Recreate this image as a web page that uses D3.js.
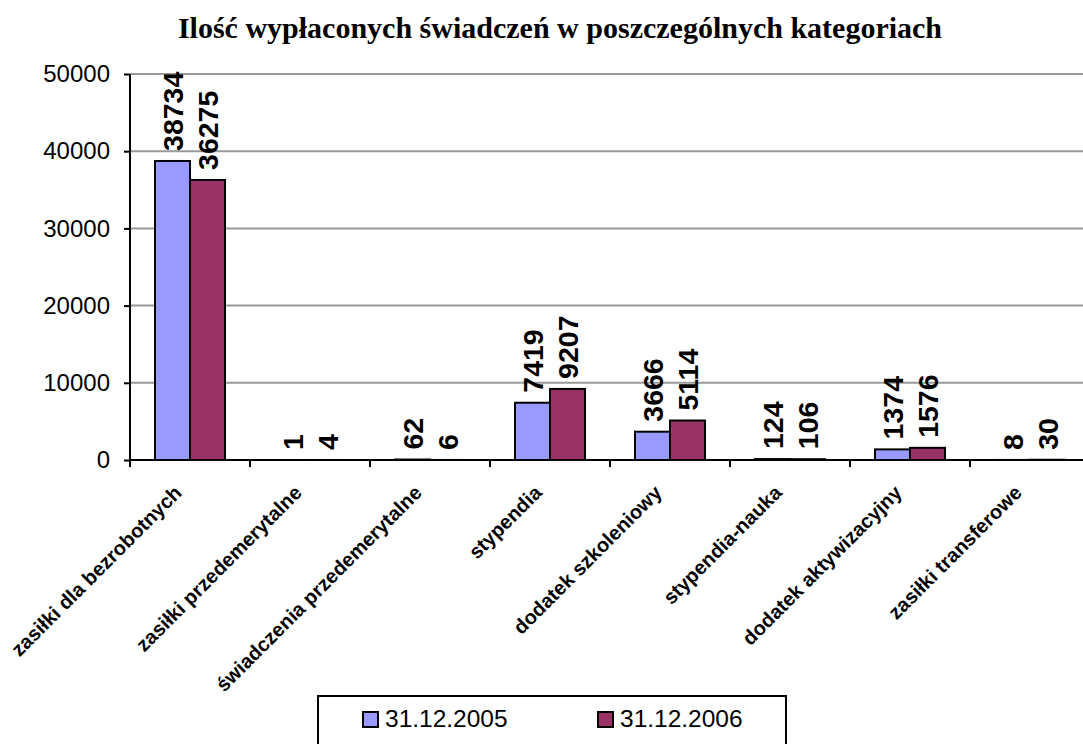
<!DOCTYPE html>
<html><head><meta charset="utf-8">
<script src="https://cdn.jsdelivr.net/npm/d3@7"></script>
<style>body{margin:0;background:#fff}svg{display:block}</style>
</head><body>
<script>
const categories = ["zasiłki dla bezrobotnych","zasiłki przedemerytalne","świadczenia przedemerytalne","stypendia","dodatek szkoleniowy","stypendia-nauka","dodatek aktywizacyjny","zasiłki transferowe"];
const seriesNames = ["31.12.2005","31.12.2006"];
const values2005 = [38734,1,62,7419,3666,124,1374,8];
const values2006 = [36275,4,6,9207,5114,106,1576,30];
const yTicks = [0,10000,20000,30000,40000,50000];
const title = "Ilość wypłaconych świadczeń w poszczególnych kategoriach";
const colors = ["#9999FF","#993366"];

const W=1083,H=744;
const svg=d3.select("body").append("svg").attr("width",W).attr("height",H);
const x0=d3.scaleBand().domain(categories).range([130,1090]);
const x1=d3.scaleBand().domain(seriesNames).range([25,95]);
const y=d3.scaleLinear().domain([0,50000]).range([460,74]);

svg.append("text").attr("x",560).attr("y",38).attr("text-anchor","middle")
  .attr("font-family","'Liberation Serif','Times New Roman',serif").attr("font-weight","bold")
  .attr("font-size",30).text(title);

// gridlines
svg.append("g").selectAll("line").data(yTicks.slice(1)).join("line")
  .attr("x1",130).attr("x2",W).attr("y1",d=>y(d)).attr("y2",d=>y(d))
  .attr("stroke","#999").attr("stroke-width",2);

const yAxis=svg.append("g").attr("transform","translate(130,0)")
  .call(d3.axisLeft(y).tickValues(yTicks).tickSize(6).tickPadding(14).tickFormat(d3.format("d")));
yAxis.select(".domain").attr("stroke","#000").attr("stroke-width",2).attr("d","M0,74V460");
yAxis.selectAll(".tick line").attr("stroke","#000").attr("stroke-width",2);
yAxis.selectAll("text").attr("font-family","'Liberation Sans',Arial,sans-serif").attr("font-size",24).attr("fill","#000");

const data=categories.map((c,i)=>({c,vals:[values2005[i],values2006[i]]}));
const groups=svg.append("g").selectAll("g").data(data).join("g")
  .attr("transform",d=>`translate(${x0(d.c)},0)`);
groups.selectAll("rect").data(d=>d.vals.map((v,j)=>({v,s:seriesNames[j],j}))).join("rect")
  .attr("x",d=>x1(d.s)).attr("width",x1.bandwidth())
  .attr("y",d=>y(d.v)).attr("height",d=>y(0)-y(d.v))
  .attr("fill",d=>colors[d.j]).attr("stroke","#000").attr("stroke-width",2);
groups.selectAll("text").data(d=>d.vals.map((v,j)=>({v,s:seriesNames[j],j}))).join("text")
  .attr("transform",d=>`translate(${x1(d.s)+x1.bandwidth()/2+10},${y(d.v)-10}) rotate(-90)`)
  .attr("font-family","'Liberation Sans',Arial,sans-serif").attr("font-weight","bold")
  .attr("font-size",28.5).text(d=>d.v);

// x axis
const xAxis=svg.append("g").attr("transform","translate(0,460)")
  .call(d3.axisBottom(x0).tickSize(0).tickFormat(""));
xAxis.select(".domain").attr("d",`M130,0H${W}`).attr("stroke","#000").attr("stroke-width",2);
xAxis.selectAll(".tick").remove();
xAxis.append("g").selectAll("line").data(d3.range(categories.length+1)).join("line")
  .attr("x1",i=>130+i*x0.step()).attr("x2",i=>130+i*x0.step()).attr("y1",0).attr("y2",7)
  .attr("stroke","#000").attr("stroke-width",2);

svg.append("g").selectAll("text").data(categories).join("text")
  .attr("transform",d=>`translate(${x0(d)+x0.bandwidth()/2-7},${494}) rotate(-45)`)
  .attr("text-anchor","end")
  .attr("font-family","'Liberation Sans',Arial,sans-serif").attr("font-weight","bold")
  .attr("font-size",20).text(d=>d);

// legend
const lg=svg.append("g");
lg.append("rect").attr("x",318).attr("y",696).attr("width",468).attr("height",60)
  .attr("fill","#fff").attr("stroke","#000").attr("stroke-width",2);
const lx=[363,598];
seriesNames.forEach((s,i)=>{
  lg.append("rect").attr("x",lx[i]).attr("y",712).attr("width",15).attr("height",15)
    .attr("fill",colors[i]).attr("stroke","#000").attr("stroke-width",2);
  lg.append("text").attr("x",lx[i]+22).attr("y",727)
    .attr("font-family","'Liberation Sans',Arial,sans-serif").attr("font-size",24.5).text(s);
});
</script>
</body></html>
